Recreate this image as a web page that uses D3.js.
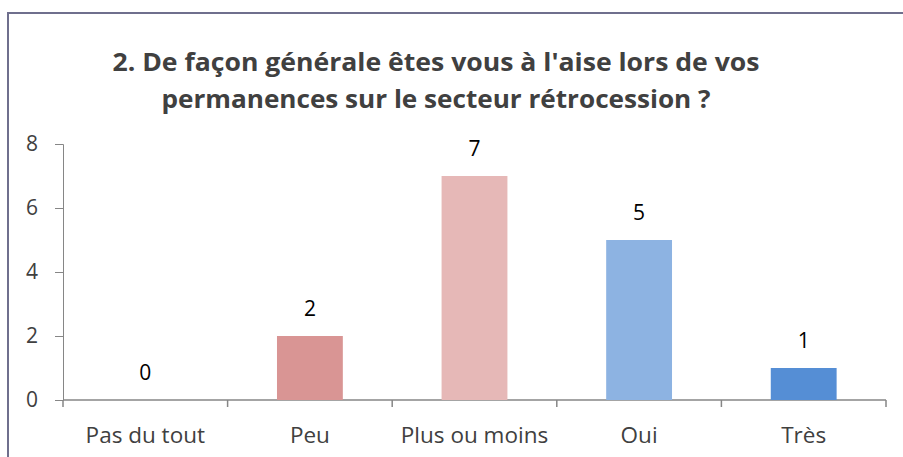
<!DOCTYPE html>
<html>
<head>
<meta charset="utf-8">
<script src="https://cdn.jsdelivr.net/npm/d3@7"></script>
<style>
  body { margin: 0; background: #fff; }
  text { font-family: "Open Sans", sans-serif; }
</style>
</head>
<body>
<div id="chart"></div>
<script>
// data
const categories = ["Pas du tout", "Peu", "Plus ou moins", "Oui", "Très"];
const counts = [0, 2, 7, 5, 1];
const barColors = ["#d99594", "#d99594", "#e6b8b7", "#8db3e2", "#558ed5"];
const yTicks = [0, 2, 4, 6, 8];
const titleLines = ["2. De façon générale êtes vous à l'aise lors de vos",
                    "permanences sur le secteur rétrocession ?"];

const W = 903, H = 457;
const margin = {top: 144, right: 17, bottom: 57, left: 63},
    width = W - margin.left - margin.right,
    height = H - margin.top - margin.bottom;

const svg = d3.select("#chart")
    .append("svg")
    .attr("width", W)
    .attr("height", H);

// chart frame (only top and left edges visible)
svg.append("path")
    .attr("d", "M8,457 L8,13 L903,13")
    .attr("fill", "none")
    .attr("stroke", "#6f6f8d")
    .attr("stroke-width", 2);

// title
const titleW = [647, 549];
svg.selectAll(".title")
    .data(titleLines)
    .enter().append("text")
    .attr("class", "title")
    .attr("x", 436)
    .attr("y", (d, i) => 71 + i * 37)
    .attr("text-anchor", "middle")
    .attr("font-size", 25)
    .attr("font-weight", "bold")
    .attr("fill", "#404040")
    .attr("textLength", (d, i) => titleW[i])
    .attr("lengthAdjust", "spacingAndGlyphs")
    .text(d => d);

const g = svg.append("g")
    .attr("transform", `translate(${margin.left}, ${margin.top})`);

const x = d3.scaleBand()
    .range([0, width])
    .domain(categories)
    .paddingInner(0.6)
    .paddingOuter(0.3);

const y = d3.scaleLinear()
    .range([height, 0])
    .domain([0, 8]);

// y axis
const yAxis = g.append("g")
    .call(d3.axisLeft(y).tickValues(yTicks).tickSize(8).tickPadding(17))
yAxis.select(".domain").attr("stroke", "#868686");
yAxis.selectAll(".tick line").attr("stroke", "#868686");
yAxis.selectAll(".tick text")
    .attr("font-size", 21)
    .attr("fill", "#404040")
    .style("font-family", "'Open Sans', sans-serif");

// x axis: ticks between categories
const bounds = d3.range(categories.length + 1);
g.append("line")
    .attr("x1", 0).attr("x2", width)
    .attr("y1", height).attr("y2", height)
    .attr("stroke", "#868686")
    .attr("stroke-width", 1.5);
g.selectAll(".xtick")
    .data(bounds)
    .enter().append("line")
    .attr("class", "xtick")
    .attr("x1", d => d * width / categories.length)
    .attr("x2", d => d * width / categories.length)
    .attr("y1", height)
    .attr("y2", height + 7)
    .attr("stroke", "#868686")
    .attr("stroke-width", 1.5);

g.selectAll(".xlabel")
    .data(categories)
    .enter().append("text")
    .attr("class", "xlabel")
    .attr("x", d => x(d) + x.bandwidth() / 2)
    .attr("y", height + 43)
    .attr("text-anchor", "middle")
    .attr("font-size", 22.5)
    .attr("fill", "#404040")
    .text(d => d);

// bars
g.selectAll(".bar")
    .data(counts)
    .enter().append("rect")
    .attr("class", "bar")
    .attr("x", (d, i) => x(categories[i]))
    .attr("width", x.bandwidth())
    .attr("y", d => y(d))
    .attr("height", d => height - y(d))
    .attr("fill", (d, i) => barColors[i]);

// value labels
g.selectAll(".val")
    .data(counts)
    .enter().append("text")
    .attr("class", "val")
    .attr("x", (d, i) => x(categories[i]) + x.bandwidth() / 2)
    .attr("y", d => y(d) - 20)
    .attr("text-anchor", "middle")
    .attr("font-size", 21)
    .attr("fill", "#000")
    .text(d => d);
</script>
</body>
</html>
